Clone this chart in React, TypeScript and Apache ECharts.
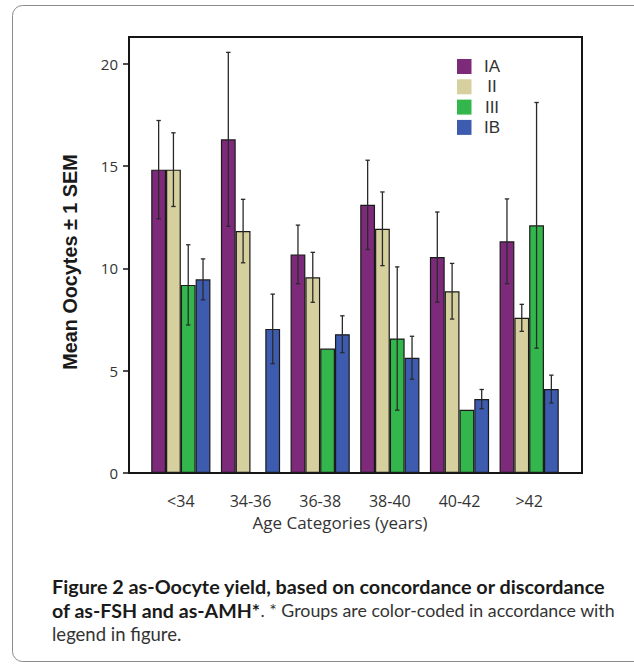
import React, { useEffect, useRef } from "react";
import * as echarts from "echarts";

const categories = ["<34", "34-36", "36-38", "38-40", "40-42", ">42"];
const groups = ["IA", "II", "III", "IB"];
const colors = ["#7d2a7b", "#d6cf9e", "#33b74c", "#3d5caf"];

const meanIA = [14.82, 16.3, 10.68, 13.1, 10.55, 11.32];
const semIA = [2.4, 4.25, 1.43, 2.18, 2.2, 2.07];
const meanII = [14.82, 11.82, 9.56, 11.93, 8.88, 7.58];
const semII = [1.8, 1.55, 1.22, 1.8, 1.36, 0.66];
const meanIII = [9.19, null, 6.08, 6.57, 3.09, 12.1];
const semIII = [1.96, 0, 0, 3.5, 0, 6.0];
const meanIB = [9.46, 7.04, 6.78, 5.63, 3.61, 4.1];
const semIB = [1.0, 1.7, 0.9, 1.05, 0.47, 0.68];

const yTicks = [0, 5, 10, 15, 20];
const yMax = 21.3;
const yTitle = "Mean Oocytes ± 1 SEM";
const xTitle = "Age Categories (years)";

const means = [meanIA, meanII, meanIII, meanIB];
const sems = [semIA, semII, semIII, semIB];

const BW = 14.8;

export default function App() {
  const ref = useRef<HTMLDivElement>(null);
  useEffect(() => {
    if (!ref.current) return;
    const chart = echarts.init(ref.current, null, { renderer: "svg" });

    const errData: number[][] = [];
    means.forEach((arr, k) => {
      arr.forEach((m, i) => {
        const s = sems[k][i];
        if (m != null && s) errData.push([i, m, s, k]);
      });
    });

    const barSeries = groups.map((g, k) => ({
      name: g,
      type: "bar",
      xAxisIndex: 1,
      yAxisIndex: 1,
      barWidth: BW,
      barGap: "0%",
      data: means[k].map((v) => (v == null ? "-" : v)),
      itemStyle: { color: colors[k], borderColor: "#1a1a1a", borderWidth: 1.2 },
      z: 2,
    }));

    chart.setOption({
      animation: false,
      backgroundColor: "#fff",
      grid: [
        { left: 129, top: 37, width: 453, height: 436, show: true, borderColor: "#151515", borderWidth: 2, backgroundColor: "transparent" },
        { left: 146, top: 37, width: 418, height: 436 },
      ],
      xAxis: [
        { type: "value", gridIndex: 0, min: 0, max: 1, show: false },
        {
          type: "category",
          gridIndex: 1,
          data: categories,
          axisLine: { show: false },
          axisTick: { show: false },
          axisLabel: { margin: 20, fontSize: 16, fontFamily: "Open Sans", color: "#333" },
          name: xTitle,
          nameLocation: "middle",
          nameGap: 34,
          nameTextStyle: { fontSize: 17, fontFamily: "Open Sans", color: "#333", padding: [0, 30, 0, 0] },
        },
      ],
      yAxis: [
        {
          type: "value",
          gridIndex: 0,
          min: 0,
          max: yMax,
          axisLine: { show: false },
          splitLine: { show: false },
          axisTick: { show: true, length: 6, customValues: yTicks, lineStyle: { color: "#151515", width: 1.5 } },
          axisLabel: { customValues: yTicks, margin: 11, fontSize: 15, fontFamily: "Open Sans", color: "#333" },
        },
        { type: "value", gridIndex: 1, min: 0, max: yMax, show: false },
      ],
      legend: {
        data: groups,
        orient: "vertical",
        left: 457,
        top: 58,
        padding: 0,
        itemWidth: 14.5,
        itemHeight: 15,
        itemGap: 3.3,
        icon: "rect",
        itemStyle: { borderWidth: 0 },
        formatter: (n: string) => `{a|${n}}`,
        textStyle: {
          rich: { a: { width: 31, align: "center", fontSize: 17, lineHeight: 15, fontFamily: "Liberation Sans", color: "#333" } },
        },
      },
      series: [
        ...barSeries,
        {
          type: "custom",
          name: "err",
          xAxisIndex: 1,
          yAxisIndex: 1,
          z: 5,
          data: errData,
          renderItem: (params: any, api: any) => {
            const cat = api.value(0);
            const m = api.value(1);
            const s = api.value(2);
            const k = api.value(3);
            const c = api.coord([cat, m]);
            const x = c[0] + (k - 1.5) * BW;
            const yt = api.coord([cat, m + s])[1];
            const yb = api.coord([cat, m - s])[1];
            const st = { stroke: "#2a2a2a", lineWidth: 1.3 };
            return {
              type: "group",
              children: [
                { type: "line", shape: { x1: x, y1: yt, x2: x, y2: yb }, style: st },
                { type: "line", shape: { x1: x - 2.2, y1: yt, x2: x + 2.2, y2: yt }, style: st },
                { type: "line", shape: { x1: x - 2.2, y1: yb, x2: x + 2.2, y2: yb }, style: st },
              ],
            };
          },
        },
      ],
      graphic: [
        {
          type: "rect",
          shape: { x: 12.5, y: 5.5, width: 640, height: 656, r: 10 },
          style: { fill: "none", stroke: "#8a8a8a", lineWidth: 1 },
          silent: true,
        },
        {
          type: "text",
          x: 70,
          y: 262,
          rotation: Math.PI / 2,
          style: {
            text: yTitle,
            fontSize: 19.8,
            fontWeight: "bold",
            fontFamily: "Liberation Sans",
            fill: "#1a1a1a",
            align: "center",
            verticalAlign: "middle",
          },
        },
        {
          type: "text",
          x: 52,
          y: 586,
          style: {
            text: "Figure 2 as-Oocyte yield, based on concordance or discordance",
            fontSize: 19.8,
            fontWeight: "bold",
            fontFamily: "Lato",
            fill: "#1a1a1a",
            verticalAlign: "middle",
          },
        },
        {
          type: "text",
          x: 52,
          y: 610,
          style: {
            text: "{b|of as-FSH and as-AMH*}{r|. * Groups are color-coded in accordance with}",
            verticalAlign: "middle",
            rich: {
              b: { fontSize: 19.6, fontWeight: "bold", fontFamily: "Lato", fill: "#1a1a1a" },
              r: { fontSize: 17.8, fontFamily: "Lato", fill: "#333" },
            },
          },
        },
        {
          type: "text",
          x: 52,
          y: 634,
          style: {
            text: "legend in figure.",
            fontSize: 18.5,
            fontFamily: "Lato",
            fill: "#333",
            verticalAlign: "middle",
          },
        },
      ],
    });
    return () => chart.dispose();
  }, []);
  return (
    <div
      ref={ref}
      style={{ position: "fixed", left: 0, top: 0, width: 634, height: 666, background: "#fff" }}
    />
  );
}
